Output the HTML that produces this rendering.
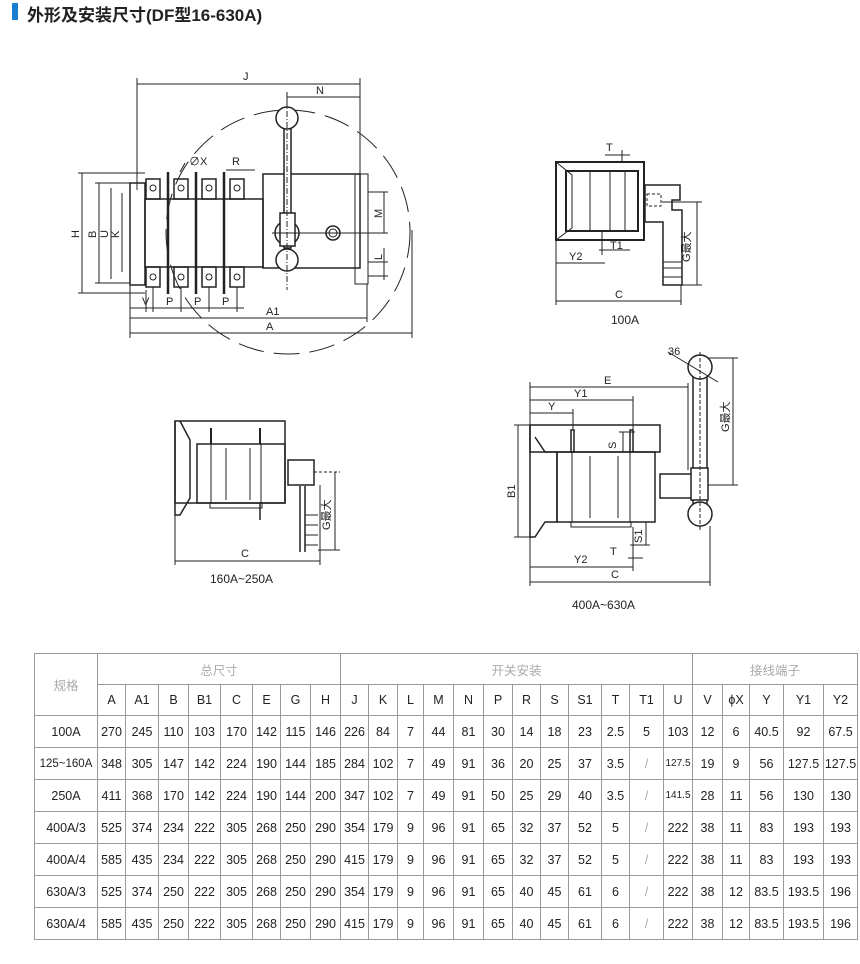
<!DOCTYPE html>
<html><head><meta charset="utf-8"><style>
body{margin:0;width:860px;height:964px;background:#fff;position:relative;overflow:hidden;font-family:"Liberation Sans","Noto Sans CJK SC",sans-serif}
.t{position:absolute;left:27px;top:1px;font-size:17px;font-weight:bold;color:#222;font-family:"Liberation Sans","Noto Sans CJK SC",sans-serif}
.bq{position:absolute;left:12px;top:3px;width:6px;height:17px;background:#1a7fd0}
svg{position:absolute;left:0;top:0}
table{position:absolute;left:34px;top:653px;border-collapse:collapse;table-layout:fixed;font-size:12.5px;color:#222}
td{border:1px solid #999;text-align:center;padding:0;height:31px;white-space:nowrap;overflow:hidden}
tr.h td{height:30px}
.g{color:#aaa}
</style></head><body>
<div class="bq"></div><div class="t">外形及安装尺寸(DF型16-630A)</div>
<svg width="860" height="964" viewBox="0 0 860 964" fill="none" stroke="#222" stroke-width="1" font-family="Liberation Sans, Noto Sans CJK SC, sans-serif" font-size="11">
<circle cx="288" cy="232" r="122" stroke-dasharray="26 10"/>
<line x1="137" y1="84" x2="360" y2="84"/><line x1="137" y1="78" x2="137" y2="190"/><line x1="360" y1="78" x2="360" y2="175"/>
<line x1="287" y1="97" x2="360" y2="97"/><line x1="287" y1="92" x2="287" y2="108"/>
<rect x="263" y="174" width="97" height="94" stroke-width="1.5"/>
<rect x="355" y="174" width="13" height="110"/>
<rect x="130" y="183" width="15" height="102" stroke-width="1.5"/>
<rect x="145" y="199" width="118" height="68" stroke-width="1.5"/>
<g stroke-width="1.5">
<rect x="146" y="179" width="14" height="20"/><rect x="174" y="179" width="14" height="20"/><rect x="202" y="179" width="14" height="20"/><rect x="230" y="179" width="14" height="20"/>
<rect x="146" y="267" width="14" height="20"/><rect x="174" y="267" width="14" height="20"/><rect x="202" y="267" width="14" height="20"/><rect x="230" y="267" width="14" height="20"/>
</g>
<g stroke-width="2.5"><line x1="168" y1="172" x2="168" y2="294"/><line x1="196" y1="172" x2="196" y2="294"/><line x1="224" y1="172" x2="224" y2="294"/></g>
<g><circle cx="153" cy="188" r="3"/><circle cx="181" cy="188" r="3"/><circle cx="209" cy="188" r="3"/><circle cx="237" cy="188" r="3"/><circle cx="153" cy="277" r="3"/><circle cx="181" cy="277" r="3"/><circle cx="209" cy="277" r="3"/><circle cx="237" cy="277" r="3"/></g>
<rect x="284" y="128" width="7" height="120" fill="#fff" stroke-width="1.5"/>
<circle cx="287" cy="118" r="11" fill="#fff" stroke-width="1.5"/>
<circle cx="287" cy="233" r="12" stroke-width="1.5"/>
<rect x="280" y="213" width="15" height="33" fill="#fff" stroke-width="1.5"/>
<circle cx="287" cy="260" r="11" fill="#fff" stroke-width="1.5"/>
<line x1="287" y1="100" x2="287" y2="290" stroke-dasharray="6 2 1 2"/>
<line x1="272" y1="233" x2="385" y2="233"/>
<circle cx="333" cy="233" r="7" stroke-width="1.5"/><circle cx="333" cy="233" r="4"/>
<line x1="82" y1="173" x2="82" y2="293"/><line x1="78" y1="173" x2="145" y2="173"/><line x1="78" y1="293" x2="145" y2="293"/>
<line x1="99" y1="183" x2="99" y2="283"/><line x1="95" y1="183" x2="130" y2="183"/><line x1="95" y1="283" x2="130" y2="283"/>
<line x1="111" y1="188" x2="111" y2="279"/><line x1="122" y1="193" x2="122" y2="272"/>
<line x1="130" y1="308" x2="244" y2="308"/>
<line x1="130" y1="318" x2="367" y2="318"/><line x1="130" y1="333" x2="412" y2="333"/>
<line x1="130" y1="285" x2="130" y2="338"/><line x1="367" y1="284" x2="367" y2="322"/><line x1="412" y1="230" x2="412" y2="338"/>
<line x1="146" y1="290" x2="146" y2="312"/><line x1="153" y1="287" x2="153" y2="312"/><line x1="181" y1="287" x2="181" y2="312"/><line x1="209" y1="287" x2="209" y2="312"/><line x1="237" y1="287" x2="237" y2="312"/>
<line x1="226" y1="170" x2="255" y2="170"/><line x1="185" y1="163" x2="180" y2="172"/>
<line x1="368" y1="192" x2="388" y2="192"/><line x1="368" y1="233" x2="388" y2="233"/><line x1="384" y1="192" x2="384" y2="233"/>
<line x1="368" y1="262" x2="388" y2="262"/><line x1="368" y1="276" x2="388" y2="276"/><line x1="384" y1="248" x2="384" y2="280"/>
<g fill="#222" stroke="none" font-size="11">
<text x="243" y="80">J</text><text x="316" y="94">N</text><text x="189" y="165">∅X</text><text x="232" y="165">R</text>
<text x="142" y="305">V</text><text x="166" y="305">P</text><text x="194" y="305">P</text><text x="222" y="305">P</text>
<text x="266" y="315">A1</text><text x="266" y="330">A</text>
<text transform="translate(79,238) rotate(-90)">H</text><text transform="translate(96,238) rotate(-90)">B</text><text transform="translate(108,238) rotate(-90)">U</text><text transform="translate(119,238) rotate(-90)">K</text>
<text transform="translate(382,218) rotate(-90)">M</text><text transform="translate(382,260) rotate(-90)">L</text>
</g>
<path d="M556 162 L644 162 L644 240 L556 240 Z" stroke-width="2"/>
<path d="M556 162 L572 175 L572 228 L556 240" />
<rect x="566" y="171" width="72" height="60" stroke-width="2"/>
<line x1="590" y1="172" x2="590" y2="230"/><line x1="610" y1="172" x2="610" y2="230"/><line x1="625" y1="172" x2="625" y2="230"/>
<path d="M645 185 L680 185 L680 200 L672 200 L672 210 L682 210 L682 285 L663 285 L663 222 L645 222 Z" stroke-width="1.5"/>
<line x1="663" y1="262" x2="682" y2="262"/><line x1="663" y1="268" x2="682" y2="268"/><line x1="663" y1="277" x2="682" y2="277"/>
<rect x="647" y="194" width="14" height="12" stroke-dasharray="3 2"/>
<line x1="605" y1="155" x2="630" y2="155"/><line x1="622" y1="150" x2="622" y2="162"/>
<line x1="602" y1="232" x2="602" y2="255"/><line x1="599" y1="250" x2="630" y2="250"/>
<line x1="556" y1="263" x2="605" y2="263"/><line x1="556" y1="240" x2="556" y2="305"/><line x1="681" y1="285" x2="681" y2="305"/>
<line x1="556" y1="301" x2="681" y2="301"/>
<line x1="697" y1="202" x2="697" y2="285"/><line x1="662" y1="202" x2="702" y2="202"/><line x1="682" y1="285" x2="702" y2="285"/>
<g fill="#222" stroke="none"><text x="606" y="151">T</text><text x="610" y="249">T1</text><text x="569" y="260">Y2</text><text x="615" y="298">C</text><text x="611" y="324" font-size="12">100A</text>
<text transform="translate(690,262) rotate(-90)">G最大</text></g>
<rect x="175" y="421" width="110" height="82" stroke-width="1.5"/>
<path d="M175 421 L175 515 L180 515 L190 498 L190 440 L180 421" stroke-width="1.5"/>
<rect x="197" y="444" width="88" height="59" stroke-width="1.5"/>
<line x1="211" y1="444" x2="211" y2="503"/><line x1="226" y1="448" x2="226" y2="500"/><line x1="250" y1="448" x2="250" y2="500"/><line x1="261" y1="444" x2="261" y2="503"/>
<line x1="211" y1="428" x2="211" y2="444" stroke-width="2"/><line x1="260" y1="428" x2="260" y2="444" stroke-width="2"/>
<rect x="210" y="503" width="52" height="5"/><line x1="260" y1="503" x2="260" y2="520" stroke-width="1.5"/>
<rect x="288" y="460" width="26" height="25" stroke-width="1.5"/>
<path d="M300 486 L300 552 M305 486 L305 552" stroke-width="1.5"/>
<line x1="305" y1="515" x2="318" y2="515"/><line x1="305" y1="525" x2="318" y2="525"/><line x1="305" y1="535" x2="318" y2="535"/><line x1="305" y1="545" x2="318" y2="545"/>
<line x1="335" y1="472" x2="335" y2="550"/><line x1="314" y1="472" x2="340" y2="472" stroke-dasharray="3 2"/><line x1="318" y1="550" x2="340" y2="550"/>
<line x1="175" y1="515" x2="175" y2="565"/><line x1="320" y1="485" x2="320" y2="565"/><line x1="175" y1="561" x2="320" y2="561"/>
<g fill="#222" stroke="none"><text x="241" y="557">C</text><text x="210" y="583" font-size="12">160A~250A</text>
<text transform="translate(330,530) rotate(-90)">G最大</text></g>
<rect x="530" y="425" width="130" height="27" stroke-width="1.5"/>
<path d="M530 425 L530 537 L535 537 L545 522 L557 522 L557 452 L545 452 L535 437" stroke-width="1.5"/>
<rect x="557" y="452" width="98" height="70" stroke-width="1.5"/>
<line x1="572" y1="452" x2="572" y2="522"/><line x1="590" y1="456" x2="590" y2="518"/><line x1="618" y1="456" x2="618" y2="518"/><line x1="630" y1="452" x2="630" y2="522"/>
<rect x="571" y="430" width="3" height="22" stroke-width="1.5"/><rect x="630" y="430" width="3" height="22" stroke-width="1.5"/>
<rect x="571" y="522" width="60" height="5"/>
<rect x="660" y="474" width="32" height="24" stroke-width="1.5"/>
<rect x="693" y="375" width="14" height="130" fill="#fff" stroke-width="1.5"/>
<rect x="691" y="468" width="17" height="32" fill="#fff" stroke-width="1.5"/>
<circle cx="700" cy="367" r="12" fill="#fff" stroke-width="1.5"/><circle cx="700" cy="514" r="12" fill="#fff" stroke-width="1.5"/>
<line x1="700" y1="352" x2="700" y2="532" stroke-dasharray="4 2"/>
<line x1="668" y1="352" x2="718" y2="382"/>
<line x1="530" y1="387" x2="688" y2="387"/><line x1="530" y1="400" x2="633" y2="400"/><line x1="530" y1="413" x2="573" y2="413"/>
<line x1="530" y1="382" x2="530" y2="425"/><line x1="633" y1="396" x2="633" y2="430"/><line x1="573" y1="409" x2="573" y2="430"/><line x1="688" y1="383" x2="688" y2="470"/>
<line x1="518" y1="425" x2="518" y2="537"/><line x1="514" y1="425" x2="530" y2="425"/><line x1="514" y1="537" x2="530" y2="537"/>
<line x1="623" y1="432" x2="623" y2="452"/><line x1="619" y1="432" x2="635" y2="432"/>
<line x1="646" y1="522" x2="646" y2="545"/><line x1="630" y1="545" x2="650" y2="545"/><line x1="628" y1="558" x2="643" y2="558"/>
<line x1="530" y1="567" x2="633" y2="567"/><line x1="530" y1="582" x2="710" y2="582"/>
<line x1="530" y1="537" x2="530" y2="586"/><line x1="633" y1="527" x2="633" y2="571"/><line x1="710" y1="526" x2="710" y2="586"/>
<line x1="733" y1="358" x2="733" y2="485"/><line x1="708" y1="358" x2="738" y2="358"/><line x1="708" y1="485" x2="738" y2="485"/>
<g fill="#222" stroke="none"><text x="604" y="384">E</text><text x="574" y="397">Y1</text><text x="548" y="410">Y</text>
<text transform="translate(616,449) rotate(-90)">S</text><text transform="translate(642,543) rotate(-90)">S1</text><text x="610" y="555">T</text>
<text x="574" y="563">Y2</text><text x="611" y="578">C</text><text x="572" y="609" font-size="12">400A~630A</text><text x="668" y="355">36</text>
<text transform="translate(515,498) rotate(-90)">B1</text><text transform="translate(729,432) rotate(-90)">G最大</text></g>
</svg>
<table>
<colgroup><col style="width:63px"><col style="width:28px"><col style="width:33px"><col style="width:30px"><col style="width:32px"><col style="width:32px"><col style="width:28px"><col style="width:30px"><col style="width:30px"><col style="width:28px"><col style="width:29px"><col style="width:26px"><col style="width:30px"><col style="width:30px"><col style="width:29px"><col style="width:28px"><col style="width:28px"><col style="width:33px"><col style="width:28px"><col style="width:34px"><col style="width:29px"><col style="width:30px"><col style="width:27px"><col style="width:34px"><col style="width:40px"><col style="width:34px"></colgroup>
<tr class="h"><td rowspan="2" class="g">规格</td><td colspan="8" class="g">总尺寸</td><td colspan="12" class="g">开关安装</td><td colspan="5" class="g">接线端子</td></tr>
<tr class="h"><td>A</td><td>A1</td><td>B</td><td>B1</td><td>C</td><td>E</td><td>G</td><td>H</td><td>J</td><td>K</td><td>L</td><td>M</td><td>N</td><td>P</td><td>R</td><td>S</td><td>S1</td><td>T</td><td>T1</td><td>U</td><td>V</td><td>ϕX</td><td>Y</td><td>Y1</td><td>Y2</td></tr>
<tr><td>100A</td><td>270</td><td>245</td><td>110</td><td>103</td><td>170</td><td>142</td><td>115</td><td>146</td><td>226</td><td>84</td><td>7</td><td>44</td><td>81</td><td>30</td><td>14</td><td>18</td><td>23</td><td>2.5</td><td>5</td><td>103</td><td>12</td><td>6</td><td>40.5</td><td>92</td><td>67.5</td></tr>
<tr><td style="font-size:11.5px">125~160A</td><td>348</td><td>305</td><td>147</td><td>142</td><td>224</td><td>190</td><td>144</td><td>185</td><td>284</td><td>102</td><td>7</td><td>49</td><td>91</td><td>36</td><td>20</td><td>25</td><td>37</td><td>3.5</td><td class="g">/</td><td style="font-size:10px">127.5</td><td>19</td><td>9</td><td>56</td><td>127.5</td><td>127.5</td></tr>
<tr><td>250A</td><td>411</td><td>368</td><td>170</td><td>142</td><td>224</td><td>190</td><td>144</td><td>200</td><td>347</td><td>102</td><td>7</td><td>49</td><td>91</td><td>50</td><td>25</td><td>29</td><td>40</td><td>3.5</td><td class="g">/</td><td style="font-size:10px">141.5</td><td>28</td><td>11</td><td>56</td><td>130</td><td>130</td></tr>
<tr><td>400A/3</td><td>525</td><td>374</td><td>234</td><td>222</td><td>305</td><td>268</td><td>250</td><td>290</td><td>354</td><td>179</td><td>9</td><td>96</td><td>91</td><td>65</td><td>32</td><td>37</td><td>52</td><td>5</td><td class="g">/</td><td>222</td><td>38</td><td>11</td><td>83</td><td>193</td><td>193</td></tr>
<tr><td>400A/4</td><td>585</td><td>435</td><td>234</td><td>222</td><td>305</td><td>268</td><td>250</td><td>290</td><td>415</td><td>179</td><td>9</td><td>96</td><td>91</td><td>65</td><td>32</td><td>37</td><td>52</td><td>5</td><td class="g">/</td><td>222</td><td>38</td><td>11</td><td>83</td><td>193</td><td>193</td></tr>
<tr><td>630A/3</td><td>525</td><td>374</td><td>250</td><td>222</td><td>305</td><td>268</td><td>250</td><td>290</td><td>354</td><td>179</td><td>9</td><td>96</td><td>91</td><td>65</td><td>40</td><td>45</td><td>61</td><td>6</td><td class="g">/</td><td>222</td><td>38</td><td>12</td><td>83.5</td><td>193.5</td><td>196</td></tr>
<tr><td>630A/4</td><td>585</td><td>435</td><td>250</td><td>222</td><td>305</td><td>268</td><td>250</td><td>290</td><td>415</td><td>179</td><td>9</td><td>96</td><td>91</td><td>65</td><td>40</td><td>45</td><td>61</td><td>6</td><td class="g">/</td><td>222</td><td>38</td><td>12</td><td>83.5</td><td>193.5</td><td>196</td></tr>
</table>
</body></html>
